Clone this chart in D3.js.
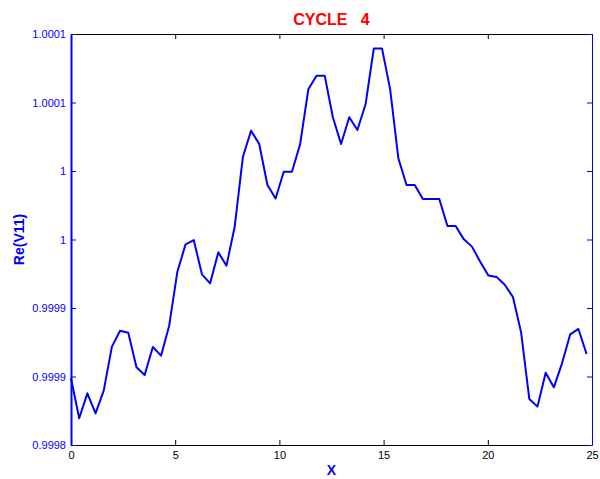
<!DOCTYPE html>
<html lang="en">
<head>
  <meta charset="utf-8">
    <title>CYCLE 4</title>
    <script type="text/javascript" src="https://d3js.org/d3.v7.min.js"></script>
    <style type="text/css">
      body { margin: 0; background: #fff; }
      text { font-family: "Liberation Sans", Arial, Helvetica, sans-serif; }
    </style>
</head>
<body>
  <script type="text/javascript">

        // sample positions along X
        var xs = [0, 0.393, 0.785, 1.178, 1.571, 1.963, 2.356, 2.749, 3.142, 3.534,
                  3.927, 4.320, 4.712, 5.105, 5.498, 5.890, 6.283, 6.676, 7.069, 7.461,
                  7.854, 8.247, 8.639, 9.032, 9.425, 9.817, 10.210, 10.603, 10.996, 11.388,
                  11.781, 12.174, 12.566, 12.959, 13.352, 13.744, 14.137, 14.530, 14.923, 15.315,
                  15.708, 16.101, 16.493, 16.886, 17.279, 17.671, 18.064, 18.457, 18.850, 19.242,
                  19.635, 20.028, 20.420, 20.813, 21.206, 21.598, 21.991, 22.384, 22.777, 23.169,
                  23.562, 23.955, 24.347, 24.740];

        // Re(V11)
        var reV11 = [0.9998487, 0.9998195, 0.9998377, 0.9998231, 0.9998397, 0.9998718, 0.9998834, 0.9998820, 0.9998567, 0.9998511,
                     0.9998715, 0.9998652, 0.9998871, 0.9999265, 0.9999465, 0.9999496, 0.9999246, 0.9999180, 0.9999406, 0.9999309,
                     0.9999593, 1.0000102, 1.0000294, 1.0000197, 0.9999898, 0.9999799, 0.9999995, 0.9999995, 1.0000197, 1.0000596,
                     1.0000696, 1.0000696, 1.0000392, 1.0000197, 1.0000392, 1.0000299, 1.0000489, 1.0000895, 1.0000895, 1.0000596,
                     1.0000093, 0.9999898, 0.9999898, 0.9999796, 0.9999796, 0.9999796, 0.9999599, 0.9999599, 0.9999501, 0.9999448,
                     0.9999338, 0.9999238, 0.9999227, 0.9999170, 0.9999080, 0.9998822, 0.9998336, 0.9998280, 0.9998528, 0.9998421,
                     0.9998596, 0.9998808, 0.9998847, 0.9998664];

        var xTicks = [0, 5, 10, 15, 20, 25];
        var yTicks = [0.9998, 0.99985, 0.9999, 0.99995, 1.0, 1.00005, 1.0001];
        var yTickLabels = ["0.9998", "0.9999", "0.9999", "1", "1", "1.0001", "1.0001"];

        var width = 600, height = 479;
        var margin = {top: 34, right: 8, bottom: 34, left: 71};

        var x = d3.scaleLinear().domain([0, 25]).range([margin.left, width - margin.right]);
        var y = d3.scaleLinear().domain([0.9998, 1.0001]).range([height - margin.bottom, margin.top]);

        var svg = d3.select("body")
            .append("svg")
            .attr("width", width)
            .attr("height", height);

        var line = d3.line()
            .x(function(d, i) { return x(xs[i]); })
            .y(function(d) { return y(d); });

        svg.append("path")
            .datum(reV11)
            .attr("d", line)
            .attr("fill", "none")
            .attr("stroke", "#0000ff")
            .attr("stroke-width", 2)
            .attr("stroke-linejoin", "round");

        // bottom and top (black)
        var gx = svg.append("g")
            .attr("transform", "translate(0," + (height - margin.bottom) + ")")
            .call(d3.axisBottom(x).tickValues(xTicks).tickSizeInner(-5).tickSizeOuter(0).tickPadding(6));
        gx.selectAll("text").attr("font-size", 11).attr("fill", "#000").style("font-family", "Liberation Sans, Arial, sans-serif");

        var gxt = svg.append("g")
            .attr("transform", "translate(0," + margin.top + ")")
            .call(d3.axisTop(x).tickValues(xTicks).tickSizeInner(-5).tickSizeOuter(0).tickFormat(""));

        [gx, gxt].forEach(function(g) {
            g.select(".domain").attr("stroke", "#000").attr("stroke-width", 1);
            g.selectAll(".tick line").attr("stroke", "#000");
        });

        // left and right (blue)
        var gy = svg.append("g")
            .attr("transform", "translate(" + margin.left + ",0)")
            .call(d3.axisLeft(y).tickValues(yTicks).tickSizeInner(-5).tickSizeOuter(0).tickPadding(5)
                .tickFormat(function(d, i) { return yTickLabels[i]; }));
        gy.selectAll("text").attr("font-size", 11).attr("fill", "#0000ff").style("font-family", "Liberation Sans, Arial, sans-serif");
        gy.select(".domain").attr("stroke", "#0000ff").attr("stroke-width", 2);
        gy.selectAll(".tick line").attr("stroke", "#0000ff");

        var gyr = svg.append("g")
            .attr("transform", "translate(" + (width - margin.right) + ",0)")
            .call(d3.axisRight(y).tickValues(yTicks).tickSizeInner(-5).tickSizeOuter(0).tickFormat(""));
        gyr.select(".domain").attr("stroke", "#0000ff").attr("stroke-width", 1);
        gyr.selectAll(".tick line").attr("stroke", "#0000ff");

        // title and labels
        var cx = (margin.left + width - margin.right) / 2;

        svg.append("text")
            .attr("x", cx)
            .attr("y", 25)
            .attr("text-anchor", "middle")
            .attr("font-size", 16)
            .attr("font-weight", "bold")
            .attr("fill", "#ff0000")
            .style("white-space", "pre")
            .text("CYCLE   4");

        svg.append("text")
            .attr("x", cx)
            .attr("y", 475)
            .attr("text-anchor", "middle")
            .attr("font-size", 14)
            .attr("font-weight", "bold")
            .attr("fill", "#0000ff")
            .text("X");

        svg.append("text")
            .attr("transform", "translate(24," + ((margin.top + height - margin.bottom) / 2) + ") rotate(-90)")
            .attr("text-anchor", "middle")
            .attr("font-size", 14)
            .attr("font-weight", "bold")
            .attr("fill", "#0000ff")
            .text("Re(V11)");

  </script>
</body>
</html>
